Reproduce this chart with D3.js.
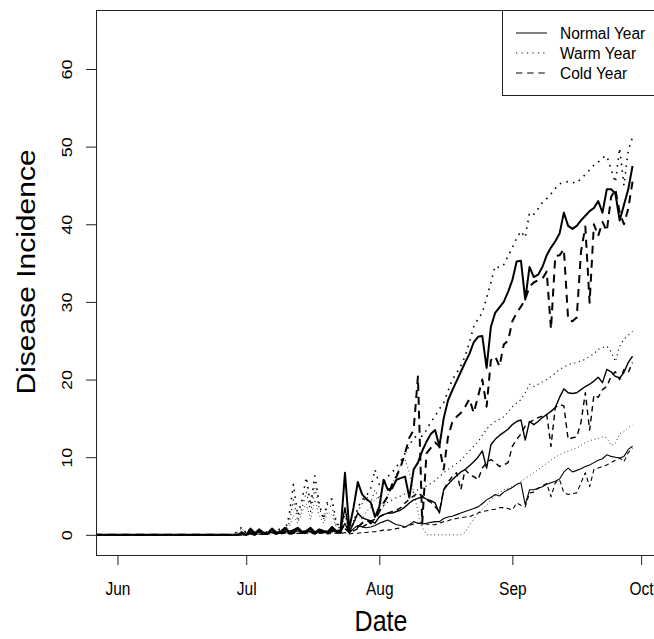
<!DOCTYPE html>
<html>
<head>
<meta charset="utf-8">
<script src="https://cdn.jsdelivr.net/npm/d3@7"></script>
<style>
  body { margin: 0; background: #fff; }
  text { font-family: "Liberation Sans", Arial, sans-serif; fill: #000; }
</style>
</head>
<body>
<div id="chart"></div>
<script>
// daily values from Jun 25 to Sep 29 (the curves are flat at 0 before that)
var zeroFrom = new Date(2010, 4, 20);
var seriesStart = new Date(2010, 5, 25);

var normalHigh = [0,0,0,0,0,0.3,0,0.8,0.2,0.7, 0.3,0.2,0.8,0.3,0.4,0.9,0.4,0.6,0.9,0.4,
  0.5,0.9,0.3,0.7,0.5,0.4,1.0,0.5,0.6,8.0, 0.8,3.5,6.8,5.2,4.6,4.2,2.3,3.6,7.1,5.8,
  6.0,7.1,7.3,7.5,4.8,8.4,9.3,10.8,12.0,13.0, 13.5,11.4,15.0,17.3,18.6,19.8,21.0,22.2,23.3,24.8,
  25.5,25.6,21.5,26.8,28.6,29.3,30.0,31.3,32.8,35.2, 35.3,30.3,34.5,33.2,33.5,34.5,36.0,37.0,37.8,38.8,
  41.5,39.8,39.4,39.8,40.5,41.1,41.7,42.1,43.0,41.5, 44.5,44.5,44.0,40.5,42.5,44.5,47.5];
var warmHigh = [0,0,0,0,0.5,1.0,0.2,0.8,0.2,0.4, 0.5,0.3,0.6,0.5,0.8,0.4,2.5,6.5,2.5,4.5,
  7.4,3.8,7.6,4.0,2.0,4.5,4.6,1.5,1.0,3.0, 0.5,1.5,3.5,4.5,5.0,6.0,8.4,6.5,6.7,7.5,
  8.0,8.8,9.5,10.5,11.5,12.5,12.8,12.7,13.5,14.5, 15.3,16.2,17.0,18.5,20.0,20.8,21.8,23.0,24.8,26.8,
  27.8,28.6,30.5,32.5,34.6,34.4,34.8,35.9,37.0,38.2, 39.1,38.3,41.5,41.3,42.0,42.8,43.3,43.9,44.6,45.2,
  45.4,45.5,45.4,45.3,45.9,46.4,47.0,47.6,48.0,48.6, 48.8,47.1,45.4,49.8,45.0,49.5,51.2];
var coldHigh = [0,0,0,0,0,0,0,0.2,0,0.3, 0.1,0.2,0.4,0.2,0.3,0.5,0.2,0.3,0.5,0.3,
  0.4,0.6,0.2,0.5,0.4,0.3,0.6,0.3,0.5,1.5, 0.5,0.8,1.0,1.5,2.0,1.5,2.0,3.0,4.1,5.0,
  6.5,7.5,8.8,10.5,12.5,13.5,20.4,1.5,10.5,11.2, 11.9,11.4,8.4,12.6,14.5,15.2,15.7,16.5,17.5,15.7,
  17.8,20.0,16.5,22.5,23.0,21.7,24.5,25.0,27.5,28.6, 29.4,30.3,32.0,32.5,32.8,33.0,33.9,26.5,35.9,36.0,
  36.8,27.7,27.5,28.0,36.5,39.7,29.9,40.0,38.5,40.3, 39.1,43.5,44.5,41.5,40.0,42.0,45.5];

var normalMid = [0,0,0,0,0,0.2,0,0.6,0.1,0.5, 0.2,0.1,0.6,0.2,0.3,0.7,0.3,0.4,0.7,0.3,
  0.4,0.7,0.2,0.5,0.4,0.3,0.8,0.4,0.5,3.5, 0.3,1.5,2.8,2.2,2.0,1.8,1.5,2.3,2.6,2.8,
  2.8,3.0,3.2,3.6,4.1,4.5,4.7,4.9,4.6,4.4, 4.1,2.8,5.8,6.5,7.1,7.6,8.1,8.4,8.9,9.4,
  10.0,10.8,8.6,11.6,12.3,12.8,13.2,13.6,14.2,14.6, 14.8,12.2,14.6,14.2,14.6,15.1,15.5,15.9,16.4,17.7,
  18.8,18.3,18.2,18.3,18.7,19.1,19.4,19.8,20.3,19.6, 21.3,21.0,20.4,20.2,20.9,22.2,23.0];
var warmMid = [0,0,0,0,0,0.5,0.2,0.6,0.3,0.5, 0.4,0.3,0.7,0.4,0.7,0.5,1.5,4.5,1.8,3.5,
  5.5,3.0,6.0,3.5,2.0,4.0,3.5,1.2,0.8,2.5, 0.5,1.8,3.0,4.0,4.9,4.1,5.8,4.5,3.8,4.2,
  4.5,4.8,5.0,5.3,5.6,5.5,5.8,6.0,6.3,6.6, 7.0,7.5,8.0,8.4,8.8,9.2,9.6,10.2,10.8,11.4,
  12.0,12.8,13.6,14.2,14.6,14.9,15.2,15.8,16.5,17.0, 17.4,18.3,19.4,19.1,19.4,19.7,20.0,20.4,20.8,21.3,
  21.6,21.9,22.1,22.2,22.4,22.6,23.0,23.3,23.9,24.1, 24.3,23.6,22.3,24.3,25.2,25.7,26.2];
var coldMid = [0,0,0,0,0,0,0,0.1,0,0.2, 0.1,0.1,0.3,0.1,0.2,0.3,0.1,0.2,0.3,0.2,
  0.3,0.4,0.1,0.3,0.3,0.2,0.4,0.3,0.2,0.8, 0.3,0.5,0.8,1.0,1.3,1.8,2.0,2.3,2.6,2.8,
  3.0,3.2,3.5,4.1,4.6,5.0,5.4,5.0,4.5,4.2, 3.6,3.0,5.8,6.8,7.5,8.0,5.8,8.4,7.8,7.5,
  7.1,8.6,9.3,9.7,9.3,8.8,9.0,9.3,11.4,12.3, 13.0,14.0,14.5,14.8,15.1,15.3,15.5,11.4,16.4,16.8,
  16.6,12.3,12.5,12.6,14.5,18.3,13.5,18.0,17.7,18.7, 19.1,20.4,21.0,20.0,21.3,20.9,22.2];

var normalLow = [0,0,0,0,0,0.1,0,0.4,0.1,0.3, 0.1,0.1,0.4,0.1,0.2,0.5,0.2,0.3,0.5,0.2,
  0.3,0.5,0.1,0.4,0.3,0.2,0.6,0.3,0.3,1.5, 0.2,0.8,1.2,1.0,0.9,1.0,1.2,1.5,1.7,1.9,
  1.6,1.3,1.2,1.0,1.3,1.7,1.5,1.4,1.5,1.6, 1.7,1.7,2.1,2.3,2.4,2.6,2.8,3.0,3.2,3.4,
  3.6,4.0,4.5,4.8,5.2,5.0,5.5,5.8,6.1,6.5, 6.7,3.9,5.8,5.8,6.0,6.2,6.5,6.7,6.9,7.2,
  8.1,8.6,8.1,8.3,8.5,8.8,9.0,9.3,9.6,9.8, 10.3,10.1,10.0,9.9,10.1,11.0,11.4];
var warmLow = [0,0,0,0,0.3,0.8,0.2,0.5,0.3,0.4, 0.2,0.5,0.8,0.3,0.6,0.4,1.0,2.5,1.5,3.0,
  4.0,2.0,4.5,2.5,1.5,3.0,2.5,1.0,0.8,1.5, 0.5,1.5,2.5,2.0,3.0,3.5,4.5,5.0,3.5,5.0,
  6.5,7.8,9.0,9.8,8.0,5.5,3.0,1.0,0,0, 0,0,0,0,0,0,0,0.3,1.2,2.0,
  2.8,3.3,3.8,4.5,5.0,5.4,5.8,6.0,6.2,6.4, 6.8,7.3,7.6,8.0,8.4,8.8,9.2,9.6,10.0,10.3,
  10.6,10.8,11.0,11.2,11.5,11.9,12.1,12.3,12.4,12.6, 12.5,11.5,11.8,13.0,13.3,13.8,14.2];
var coldLow = [0,0,0,0,0,0,0,0.1,0,0.1, 0,0.1,0.2,0.1,0.1,0.2,0.1,0.1,0.2,0.1,
  0.2,0.2,0.1,0.2,0.2,0.1,0.2,0.2,0.1,0.3, 0.1,0.2,0.2,0.3,0.3,0.4,0.4,0.5,0.6,0.6,
  0.7,0.8,0.9,1.0,1.2,1.4,1.5,1.5,1.4,1.3, 1.3,1.5,1.7,1.8,2.0,2.1,2.2,2.3,2.3,2.6,
  2.8,3.0,3.1,3.2,3.3,3.5,3.5,3.4,3.2,4.1, 3.8,3.6,5.4,5.5,6.0,6.3,6.6,4.9,6.7,7.1,
  5.4,5.2,5.3,5.4,6.7,8.0,6.2,8.4,8.6,8.8, 9.0,9.3,9.6,9.9,9.4,10.6,11.2];

var legendLabels = ["Normal Year", "Warm Year", "Cold Year"];
var monthTicks = ["Jun", "Jul", "Aug", "Sep", "Oct"];
var yTicks = [0, 10, 20, 30, 40, 50, 60];

// line type per year kind, line width per level
var dashFor = {
  normal: function(w) { return null; },
  warm: function(w) { return (w * 0.8) + "," + (w * 2.6); },
  cold: function(w) { return (w * 4) + "," + (w * 3); }
};
var widthFor = {normal: 1, warm: 0.8, cold: 1};
var series = [
  {kind: "normal", w: 2, values: normalHigh},
  {kind: "warm", w: 2, values: warmHigh},
  {kind: "cold", w: 2, values: coldHigh},
  {kind: "normal", w: 1.4, values: normalMid},
  {kind: "warm", w: 1.4, values: warmMid},
  {kind: "cold", w: 1.4, values: coldMid},
  {kind: "normal", w: 1.1, values: normalLow},
  {kind: "warm", w: 1.1, values: warmLow},
  {kind: "cold", w: 1.1, values: coldLow}
];

var W = 654, H = 639;
var plot = {left: 96, right: 654, top: 10, bottom: 555};
var stretch = 1.16; // glyphs in the reference are a bit taller than wide

var svg = d3.select("#chart")
  .append("svg")
    .attr("width", W)
    .attr("height", H);

var x = d3.scaleTime()
  .domain([new Date(2010, 4, 27), new Date(2010, 9, 4)])
  .range([plot.left, plot.right]);

var y = d3.scaleLinear()
  .domain([-2.6, 67.6])
  .range([plot.bottom, plot.top]);

svg.append("clipPath").attr("id", "clip")
  .append("rect")
    .attr("x", plot.left).attr("y", plot.top)
    .attr("width", plot.right - plot.left).attr("height", plot.bottom - plot.top);

function toPoints(values) {
  var pts = [{date: zeroFrom, value: 0}];
  values.forEach(function(v, i) {
    pts.push({date: d3.timeDay.offset(seriesStart, i), value: v});
  });
  return pts;
}

var line = d3.line()
  .x(function(d) { return x(d.date); })
  .y(function(d) { return y(d.value); });

svg.append("g")
    .attr("clip-path", "url(#clip)")
  .selectAll("path")
  .data(series)
  .enter()
  .append("path")
    .attr("d", function(s) { return line(toPoints(s.values)); })
    .attr("fill", "none")
    .attr("stroke", "#000")
    .attr("stroke-width", function(s) { return s.w * widthFor[s.kind]; })
    .attr("stroke-linejoin", "round")
    .attr("stroke-dasharray", function(s) { return dashFor[s.kind](s.w); });

// plot frame (right side falls outside the picture)
svg.append("rect")
    .attr("x", plot.left + 0.5).attr("y", plot.top + 0.5)
    .attr("width", plot.right + 20 - plot.left).attr("height", plot.bottom - plot.top)
    .attr("fill", "none").attr("stroke", "#222").attr("stroke-width", 1);

// x axis
var xAxis = d3.axisBottom(x)
  .tickValues(monthTicks.map(function(m, i) { return new Date(2010, 5 + i, 1); }))
  .tickFormat(function(d, i) { return monthTicks[i]; })
  .tickSize(10);
var gx = svg.append("g")
  .attr("transform", "translate(0," + plot.bottom + ")")
  .call(xAxis);
gx.select(".domain").remove();
gx.selectAll("line").attr("stroke", "#222");
gx.selectAll("text")
  .attr("y", 0).attr("dy", null)
  .attr("font-size", 15.5)
  .attr("font-family", "Liberation Sans, Arial, sans-serif")
  .attr("transform", "translate(0,40) scale(1," + stretch + ")");

// y axis, labels turned like R's default
var yAxis = d3.axisLeft(y)
  .tickValues(yTicks)
  .tickSize(10)
  .tickFormat(d3.format("d"));
var gy = svg.append("g")
  .attr("transform", "translate(" + plot.left + ",0)")
  .call(yAxis);
gy.select(".domain").remove();
gy.selectAll("line").attr("stroke", "#222");
gy.selectAll("text")
  .attr("x", null).attr("dy", null)
  .attr("text-anchor", "middle")
  .attr("font-size", 15.5)
  .attr("font-family", "Liberation Sans, Arial, sans-serif")
  .attr("transform", "translate(-24,0) scale(1," + stretch + ") rotate(-90)")
  .attr("y", 0);

// axis titles
svg.append("text")
  .attr("transform", "translate(381,631) scale(1," + stretch + ")")
  .attr("text-anchor", "middle")
  .attr("font-size", 25)
  .text("Date");
svg.append("text")
  .attr("transform", "translate(35,272) scale(1,1.2) rotate(-90)")
  .attr("text-anchor", "middle")
  .attr("font-size", 25)
  .text("Disease Incidence");

// legend
var lg = svg.append("g");
lg.append("rect")
  .attr("x", 502.5).attr("y", plot.top + 0.5)
  .attr("width", 200).attr("height", 85)
  .attr("fill", "#fff").attr("stroke", "#222");
var legendKinds = ["normal", "warm", "cold"];
legendLabels.forEach(function(lab, i) {
  var yy = 33 + i * 20;
  lg.append("line")
    .attr("x1", 516).attr("x2", 547)
    .attr("y1", yy).attr("y2", yy)
    .attr("stroke", "#000").attr("stroke-width", legendKinds[i] == "warm" ? 0.9 : 1)
    .attr("stroke-dasharray", dashFor[legendKinds[i]](1.6));
  lg.append("text")
    .attr("transform", "translate(560," + (yy + 6) + ") scale(1,1.1)")
    .attr("font-size", 15.5)
    .text(lab);
});
</script>
</body>
</html>
